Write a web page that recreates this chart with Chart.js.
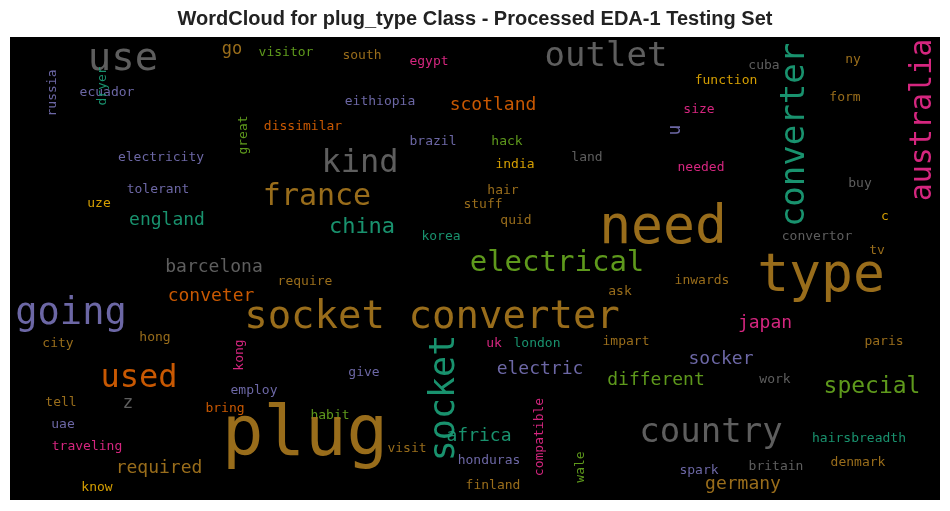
<!DOCTYPE html>
<html><head><meta charset="utf-8">
<script src="https://cdn.jsdelivr.net/npm/chart.js@4/dist/chart.umd.min.js"></script>
<style>html,body{margin:0;padding:0;background:#fff}#c{display:block}</style>
</head><body>
<canvas id="c" width="950" height="511"></canvas>
<script>
const words = ["use","outlet","converter","australia","go","visitor","south","egypt","cuba","ny","russia","ecuador","dryer","function","eithiopia","scotland","size","form","u","dissimilar","great","brazil","hack","kind","electricity","land","india","needed","tolerant","france","hair","buy","need","uze","stuff","england","quid","c","china","korea","convertor","tv","electrical","barcelona","type","require","inwards","ask","conveter","going","socket converter","japan","hong","city","kong","uk","london","impart","paris","socker","used","electric","give","employ","different","special","work","z","tell","bring","socket","habit","uae","country","plug","africa","hairsbreadth","compatible","visit","traveling","required","honduras","wale","spark","britain","denmark","know","finland","germany"];
const xs = [123,606,795,923,232,286,362,429,764,853,53,107,103,726,380,493,699,845,675,303,244,433,507,360,161,587,515,701,158,317,503,860,663,99,483,167,516,885,362,441,817,877,557,214,821,305,702,620,211,71,432,765,155,58,240,494,537,626,884,721,139,540,364,254,656,872,775,128,61,225,445,330,63,711,305,479,859,540,407,87,159,489,581,699,776,858,97,493,743];
const ys = [60,57,135,120,50,53,56,62,66,60,93,93,86,81,102,105,110,98,130,127,135,142,142,164,158,158,165,168,190,197,191,184,229,204,205,220,221,217,227,237,237,251,263,267,277,282,281,292,296,314,318,323,338,344,355,344,344,342,342,359,379,369,373,391,380,387,380,403,403,409,398,416,425,433,437,436,439,437,449,447,468,461,467,471,467,463,488,486,484];
const sizes = [39,34,34,30,17,13,13,13,13,13,13,13,13,13,13,18,13,13,18,13,13,13,13,32,13,13,13,13,13,30,13,13,53,13,13,18,13,13,22,13,13,13,29,18,53,13,13,13,18,37,39,18,13,13,13,13,13,13,13,18,32,18,13,13,18,23,13,18,13,13,35,13,13,34,69,18,13,13,13,13,18,13,13,13,13,13,13,13,18];
const colorIdx = [7,7,0,3,6,4,6,3,7,6,2,2,0,5,2,1,3,6,2,1,4,2,4,7,2,7,5,3,2,6,6,7,6,5,6,0,6,5,0,0,7,6,4,7,6,6,6,6,1,2,6,3,6,6,3,3,0,6,6,2,1,2,2,2,4,4,7,7,6,1,0,4,2,7,6,0,0,3,6,3,6,2,4,2,7,6,5,6,6];
const vertical = ["converter","australia","russia","dryer","great","kong","compatible","wale","socket","u"];
const palette = ["#1b9e77","#d95f02","#7570b3","#e7298a","#66a61e","#e6ab02","#a6761d","#666666"];

const wordPlugin = {
  id:'words',
  beforeDatasetsDraw(chart){
    const {ctx, chartArea:a} = chart;
    ctx.save(); ctx.fillStyle='#000'; ctx.fillRect(a.left,a.top,a.right-a.left,a.bottom-a.top); ctx.restore();
  },
  afterDatasetsDraw(chart){
    const ctx = chart.ctx, sx = chart.scales.x, sy = chart.scales.y;
    ctx.save();
    ctx.textAlign='center'; ctx.textBaseline='middle';
    words.forEach((w,i)=>{
      const px = sx.getPixelForValue(xs[i]), py = sy.getPixelForValue(ys[i]);
      ctx.save();
      ctx.translate(px,py);
      if (vertical.includes(w)) ctx.rotate(-Math.PI/2);
      ctx.font = sizes[i]+'px "DejaVu Sans Mono", monospace';
      ctx.fillStyle = palette[colorIdx[i]];
      ctx.globalAlpha = 0.92;
      ctx.fillText(w,0,0);
      ctx.restore();
    });
    ctx.restore();
  }
};

new Chart(document.getElementById('c'), {
  type:'scatter',
  data:{datasets:[{data: words.map((w,i)=>({x:xs[i],y:ys[i]})), pointRadius:0}]},
  options:{
    responsive:false, animation:false, devicePixelRatio:1,
    layout:{padding:{left:10,right:10,bottom:11}},
    plugins:{legend:{display:false},tooltip:{enabled:false},
      title:{display:true,text:'WordCloud for plug_type Class - Processed EDA-1 Testing Set',
        color:'#222',font:{family:'"Liberation Sans", Arial, sans-serif',size:20,weight:'bold'},padding:{top:7,bottom:6}}},
    scales:{
      x:{type:'linear',min:10,max:940,display:false},
      y:{type:'linear',min:37,max:500,reverse:true,display:false}
    }
  },
  plugins:[wordPlugin]
});
</script>
</body></html>
